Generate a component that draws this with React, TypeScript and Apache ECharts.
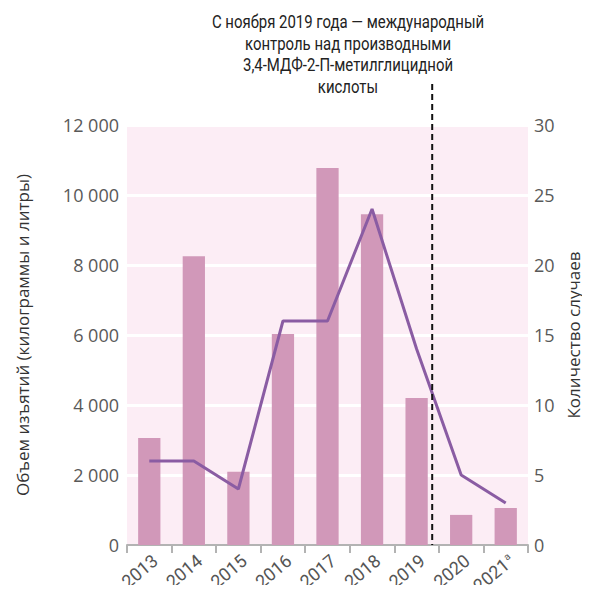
import React, { useEffect, useRef } from "react";
import * as echarts from "echarts";

const years = ["2013", "2014", "2015", "2016", "2017", "2018", "2019", "2020", "2021"];
const seizures = [3060, 8250, 2090, 6030, 10770, 9450, 4200, 860, 1060];
const cases = [6, 6, 4, 16, 16, 24, 14, 5, 3];
const leftTicks = { min: 0, max: 12000, interval: 2000 };
const rightTicks = { min: 0, max: 30, interval: 5 };
const controlPosition = 6.35; // November 2019, in category units
const annotationLines = [
  "С ноября 2019 года — международный",
  "контроль над производными",
  "3,4-МДФ-2-П-метилглицидной",
  "кислоты",
];
const leftAxisName = "Объем изъятий (килограммы и литры)";
const rightAxisName = "Количество случаев";

const labelFont = "'Open Sans', 'Noto Sans', sans-serif";
const condFont = "Roboto, sans-serif";

function fmt(v: number) {
  return String(v).replace(/\B(?=(\d{3})+(?!\d))/g, " ");
}

export default function App() {
  const ref = useRef<HTMLDivElement>(null);
  useEffect(() => {
    if (!ref.current) return;
    const chart = echarts.init(ref.current, null, { renderer: "svg" });
    chart.setOption({
      animation: false,
      grid: {
        left: 127,
        right: 62,
        top: 125,
        bottom: 48,
        show: true,
        backgroundColor: "#fcedf5",
        borderWidth: 0,
        outerBoundsMode: "none",
        containLabel: false,
      },
      xAxis: [
        {
          type: "category",
          data: years,
          axisLine: { show: true, lineStyle: { color: "#b3b3b3", width: 2 } },
          axisTick: { show: true, length: 8, lineStyle: { color: "#b3b3b3", width: 2 } },
          axisLabel: {
            rotate: 40,
            margin: 6,
            verticalAlign: "top",
            color: "#555",
            fontSize: 18,
            fontFamily: condFont,
            formatter: (v: string) => (v === "2021" ? "2021{sup|a}" : v),
            rich: {
              sup: { fontSize: 10, verticalAlign: "top", color: "#555", fontFamily: condFont, padding: [0, 0, 8, 1] },
            },
          },
        },
        {
          type: "value",
          min: -0.5,
          max: 8.5,
          show: false,
        },
      ],
      yAxis: [
        {
          type: "value",
          min: leftTicks.min,
          max: leftTicks.max,
          interval: leftTicks.interval,
          name: leftAxisName,
          nameLocation: "middle",
          nameGap: 96,
          nameTextStyle: { fontSize: 17, color: "#333", fontFamily: labelFont },
          axisLine: { show: false },
          axisTick: { show: false },
          axisLabel: { color: "#595959", fontSize: 18, fontFamily: labelFont, margin: 8, formatter: fmt },
          splitLine: { show: true, lineStyle: { color: "#ffffff", width: 3 } },
        },
        {
          type: "value",
          min: rightTicks.min,
          max: rightTicks.max,
          interval: rightTicks.interval,
          name: rightAxisName,
          nameLocation: "middle",
          nameGap: 36,
          nameRotate: 90,
          nameTextStyle: { fontSize: 17, color: "#333", fontFamily: labelFont },
          axisLine: { show: false },
          axisTick: { show: false },
          axisLabel: { color: "#595959", fontSize: 18, fontFamily: labelFont, margin: 6 },
          splitLine: { show: false },
        },
      ],
      series: [
        {
          type: "bar",
          data: seizures,
          barWidth: "50%",
          itemStyle: { color: "#d198b9" },
          xAxisIndex: 0,
          yAxisIndex: 0,
        },
        {
          type: "line",
          data: cases,
          xAxisIndex: 0,
          yAxisIndex: 1,
          symbol: "none",
          lineStyle: { color: "#8a5ca3", width: 3 },
        },
      ],
    });

    const x = chart.convertToPixel({ xAxisIndex: 1 }, controlPosition) as number;
    const yBottom = chart.convertToPixel({ yAxisIndex: 0 }, 0) as number;
    chart.setOption({
      graphic: [
        {
          type: "line",
          shape: { x1: x, y1: 84, x2: x, y2: yBottom },
          style: { stroke: "#111", lineWidth: 2, lineDash: [6, 4] },
          z: 100,
        },
        ...annotationLines.map((t, i) => ({
          type: "text",
          x: 348,
          y: 22 + i * 21.7,
          scaleX: 0.83,
          style: {
            text: t,
            fill: "#222",
            fontSize: 18,
            fontFamily: condFont,
            textAlign: "center",
            textVerticalAlign: "middle",
          },
          z: 100,
        })),
      ],
    });
    return () => chart.dispose();
  }, []);
  return <div ref={ref} style={{ width: 590, height: 593, margin: -8 }} />;
}
